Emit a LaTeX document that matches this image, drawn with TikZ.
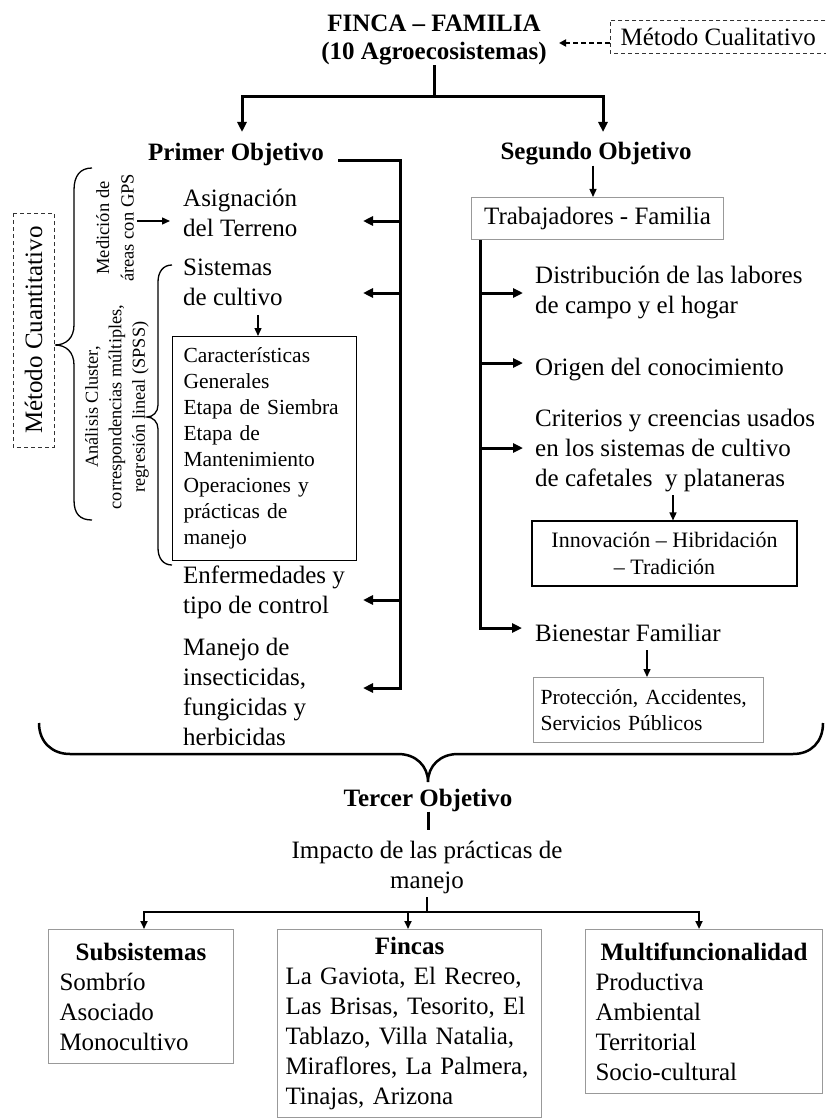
\documentclass[tikz,border=0pt]{standalone}
\usepackage{fontspec}
\setmainfont{Liberation Serif}
\usetikzlibrary{arrows.meta}
\begin{document}
\begin{tikzpicture}[x=1pt,y=-1pt,
  every node/.style={inner sep=0pt},
  tx/.style={font=\fontsize{25}{30}\selectfont, align=left, anchor=west,
    execute at begin node=\strut, execute at end node=\strut},
  bf/.style={font=\fontsize{25}{28}\selectfont\bfseries},
  thk/.style={line width=3pt},
  thkarr/.style={line width=3pt,-{Triangle[length=10pt,width=9pt]}},
  thinarr/.style={line width=1.4pt,-{Triangle[length=8pt,width=7pt]}},
  midarr/.style={line width=2pt,-{Triangle[length=8pt,width=7pt]}},
  graybox/.style={draw=black!40,line width=1pt},
  blackbox/.style={draw=black,line width=1.1pt},
  dbox/.style={draw=black!80,line width=0.9pt,dash pattern=on 4pt off 3pt},
  bracel/.style={line width=1.3pt},
]
\useasboundingbox (0,0) rectangle (825,1118);

% ---------- top ----------
\node[bf,align=center] (finca) at (434,40) {FINCA – FAMILIA\\(10 Agroecosistemas)};
\node[minimum width=216pt, minimum height=32pt, font=\fontsize{25}{30}\selectfont, anchor=west] (cual) at (610,37) {Método Cualitativo};
\draw[dbox] ([xshift=20pt]cual.north east) -- (cual.north west) -- (cual.south west) -- ([xshift=20pt]cual.south east);
\coordinate (cualend) at (559,43);
\draw[line width=1.8pt, dash pattern=on 5pt off 3pt, -{Triangle[length=7pt,width=7pt]}] (cual.west |- cualend) -- (cualend);

\coordinate (j1) at (434,97);
\node[bf] (po) at (236,154) {Primer Objetivo};
\node[bf] (so) at (596,154) {Segundo Objetivo};
\coordinate (poin) at (242,132);
\coordinate (soin) at (603,132);
\draw[thk] (finca.south) -- (j1);
\draw[thkarr] (j1) -| (poin);
\draw[thkarr] (j1) -| (soin);

% ---------- first objective ----------
\coordinate (p0) at (338,161);
\coordinate (pc) at (400,161);
\coordinate (pb) at (400,688);
\coordinate (pa1) at (363,221);
\coordinate (pa2) at (363,293);
\coordinate (pa3) at (363,600);
\coordinate (pa4) at (363,688);
\draw[thkarr] (p0) -- (pc) -- (pb) -- (pa4);
\draw[thkarr] (pc |- pa1) -- (pa1);
\draw[thkarr] (pc |- pa2) -- (pa2);
\draw[thkarr] (pc |- pa3) -- (pa3);

\node[tx] (asig) at (183,217) {Asignación\\del Terreno};
\node[tx] (sist) at (183,287) {Sistemas\\de cultivo};
\node[blackbox, anchor=north west, text width=162pt, inner xsep=11pt, minimum height=224pt,
  font=\fontsize{21.5}{26}\selectfont, align=left] (carac) at (172,336)
  {Características\\Generales\\Etapa de Siembra\\Etapa de\\Mantenimiento\\Operaciones y\\prácticas de\\manejo};
\draw[thinarr] (sist.south -| 258,0) -- (carac.north -| 258,0);
\node[tx] (enf) at (183,594.5) {Enfermedades y\\tipo de control};
\node[tx] (man) at (183,696.5) {Manejo de\\insecticidas,\\fungicidas y\\herbicidas};

\node[rotate=90, align=center, font=\fontsize{18.5}{24.5}\selectfont] (gps) at (115,228) {Medición de\\áreas con GPS};
\coordinate (m1) at (137,221);
\draw[thinarr, shorten >=13pt] (m1) -- (asig.west |- m1);
\node[rotate=90, align=center, font=\fontsize{18.3}{23.5}\selectfont] (anal) at (117,407) {Análisis Cluster,\\correspondencias múltiples,\\regresión lineal (SPSS)};
\node[dbox, rotate=90, minimum width=234pt, minimum height=41pt, font=\fontsize{25}{30}\selectfont] (cuan) at (33.5,330) {Método Cuantitativo};

% braces
\draw[bracel] (92,168) .. controls (80,168) and (74,176) .. (74,190) -- (74,325)
  .. controls (74,338) and (66,345) .. (55,345) .. controls (66,345) and (74,352) .. (74,365)
  -- (74,500) .. controls (74,514) and (80,520) .. (92,520);
\draw[bracel] (172,265) .. controls (163,265) and (158,272) .. (158,282) -- (158,405)
  .. controls (158,412) and (153,417) .. (147,417) .. controls (153,417) and (158,422) .. (158,429)
  -- (158,548) .. controls (158,558) and (163,565) .. (172,565);

% ---------- second objective ----------
\node[graybox, minimum width=252pt, minimum height=42pt, font=\fontsize{25}{30}\selectfont, anchor=north west] (tf) at (471,197) {Trabajadores - Familia};
\draw[thinarr] (so.south -| 593,0) -- (tf.north -| 593,0);
\coordinate (sx) at (480,628);
\coordinate (sa1) at (523,293);
\coordinate (sa2) at (523,363);
\coordinate (sa3) at (523,448);
\coordinate (sa4) at (522,628);
\draw[thkarr] (tf.south -| sx) -- (sx) -- (sa4);
\draw[thkarr] (sx |- sa1) -- (sa1);
\draw[thkarr] (sx |- sa2) -- (sa2);
\draw[thkarr] (sx |- sa3) -- (sa3);

\node[tx] (dist) at (535,294) {Distribución de las labores\\de campo y el hogar};
\node[tx] (orig) at (535,369) {Origen del conocimiento};
\node[tx] (crit) at (535,452) {Criterios y creencias usados\\en los sistemas de cultivo\\de cafetales\ \ y plataneras};
\node[blackbox, minimum width=265pt, minimum height=65pt, font=\fontsize{22}{27}\selectfont, align=center] (inno) at (664.5,553.5) {Innovación – Hibridación\\– Tradición};
\draw[thinarr] (crit.south -| 673,0) -- (inno.north -| 673,0);
\node[tx] (bien) at (535,635) {Bienestar Familiar};
\node[graybox, anchor=north west, text width=216pt, inner xsep=7pt, minimum height=65pt,
  font=\fontsize{21.6}{26}\selectfont, align=left] (prot) at (533,677) {Protección, Accidentes,\\Servicios Públicos};
\draw[thinarr] (bien.south -| 647,0) -- (prot.north -| 647,0);

% ---------- big brace ----------
\draw[line width=2.5pt] (39,723) .. controls (39,742) and (52,754) .. (70,754) -- (398,754)
  .. controls (416,754) and (428,766) .. (428,782) .. controls (428,766) and (440,754) .. (458,754)
  -- (793,754) .. controls (811,754) and (823,742) .. (823,723);

% ---------- third objective ----------
\node[bf] (ter) at (428,800) {Tercer Objetivo};
\coordinate (terstub) at (428,830);
\draw[thk] (ter.south) -- (terstub);
\node[tx, anchor=center, align=center] (imp) at (427,869) {Impacto de las prácticas de\\manejo};
\coordinate (j3) at (427,912);
\draw[line width=2pt] (imp.south) -- (j3);

\node[graybox, anchor=north west, text width=163pt, inner xsep=11pt, minimum height=134pt,
  font=\fontsize{25}{30}\selectfont, align=left] (sub) at (48,929)
  {\makebox[\hsize]{\bfseries Subsistemas}\\Sombrío\\Asociado\\Monocultivo};
\node[graybox, anchor=north west, text width=248pt, inner xsep=8pt, minimum height=188pt,
  font=\fontsize{25}{30}\selectfont, align=left] (fin) at (277,929)
  {\makebox[\hsize]{\bfseries Fincas}\\La Gaviota, El Recreo,\\Las Brisas, Tesorito, El\\Tablazo, Villa Natalia,\\Miraflores, La Palmera,\\Tinajas, Arizona};
\node[graybox, anchor=north west, text width=217pt, inner xsep=10pt, minimum height=164pt,
  font=\fontsize{25}{30}\selectfont, align=left] (mul) at (585,929)
  {\makebox[\hsize]{\bfseries Multifuncionalidad}\\Productiva\\Ambiental\\Territorial\\Socio-cultural};

\draw[midarr] (j3) -| (sub.north -| 144,0);
\draw[midarr] (j3) -| (fin.north -| 408,0);
\draw[midarr] (j3) -| (mul.north -| 699,0);
\end{tikzpicture}
\end{document}
